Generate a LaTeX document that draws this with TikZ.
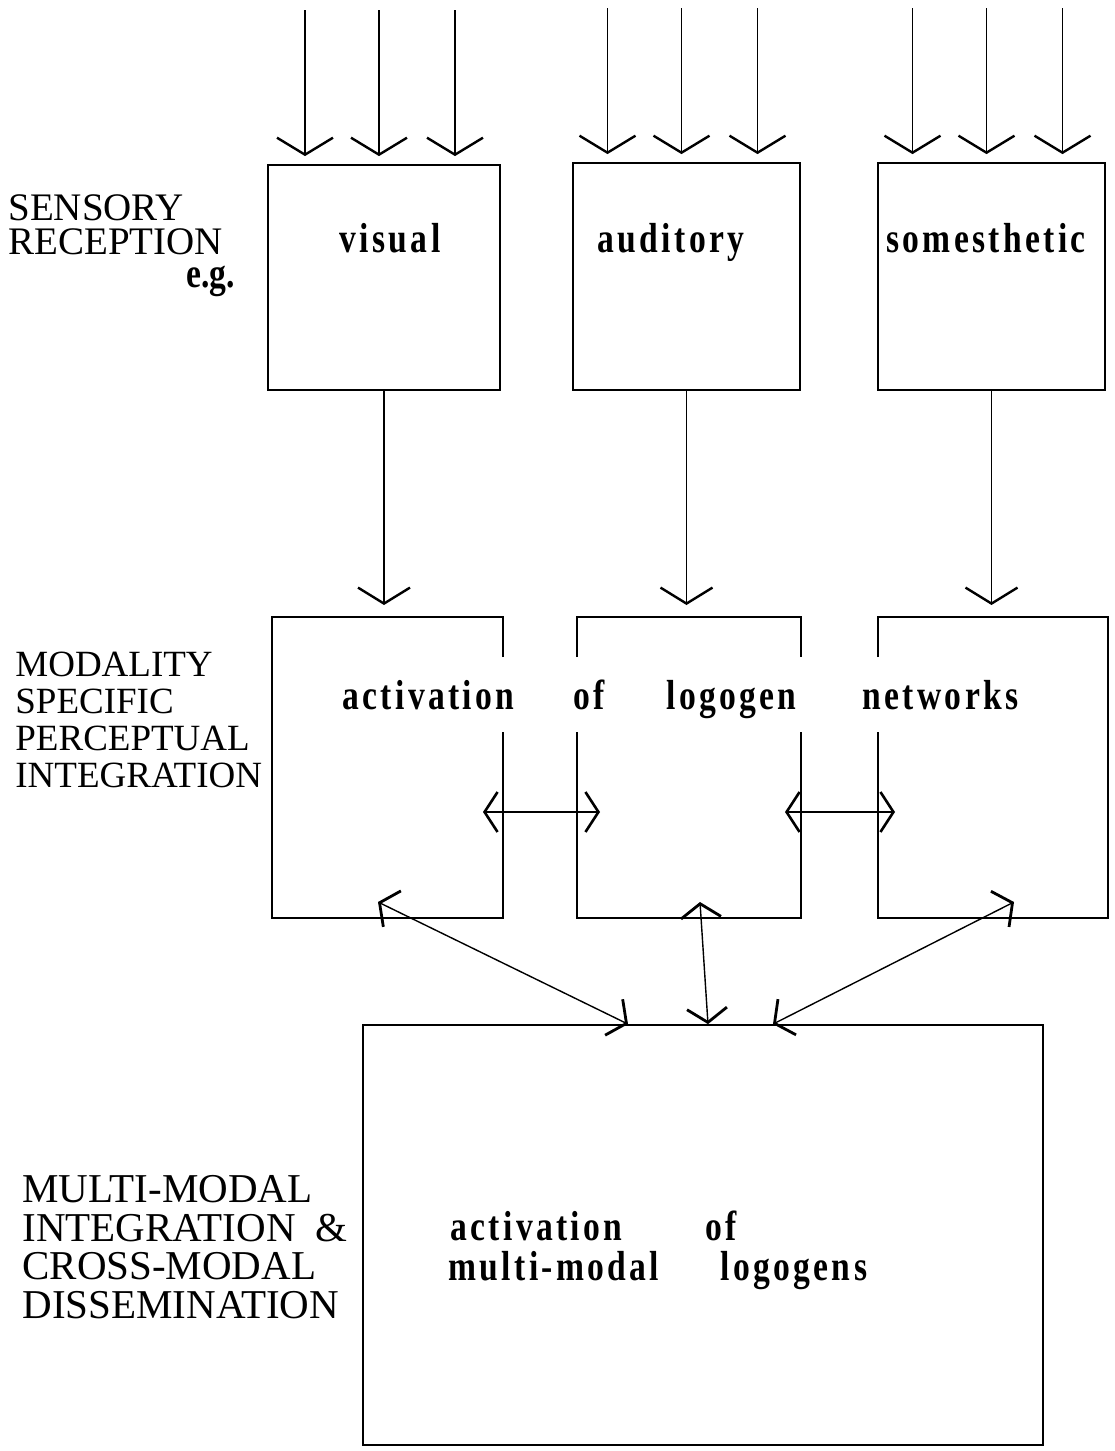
\documentclass[tikz,border=0pt]{standalone}
\usepackage{fontspec}
\setmainfont{Liberation Serif}
\newfontfamily\wordfont[FakeStretch=0.8,LetterSpace=8]{Liberation Serif Bold}
\newfontfamily\egfont[FakeStretch=0.8]{Liberation Serif Bold}
\usetikzlibrary{arrows.meta,calc}

\tikzset{
	box/.style={draw,line width=0.9pt,inner sep=0pt},
	slot/.style={inner sep=0pt,outer sep=0pt},
	boxline/.style={line width=0.9pt},
	word/.style={font={\wordfont\fontsize{21}{21}\selectfont},inner sep=0pt},
	side/.style={align=left,inner sep=0pt,anchor=north west},
	inarr/.style={line width=0.7pt,-{Straight Barb[length=8.5pt,width=28pt,line width=1.2pt]}},
	downarr/.style={line width=0.7pt,shorten >=6pt,-{Straight Barb[length=8pt,width=26pt,line width=1.2pt]}},
	sidearr/.style={line width=0.7pt,{Straight Barb[length=6.5pt,width=20pt,line width=1.3pt]}-{Straight Barb[length=6.5pt,width=20pt,line width=1.3pt]}},
	crossarr/.style={line width=0.7pt,{Straight Barb[length=7pt,width=20pt,line width=1.4pt]}-{Straight Barb[length=7pt,width=20pt,line width=1.4pt]}}
}

\begin{document}
\begin{tikzpicture}[x=0.5pt,y=-0.5pt]
	\useasboundingbox (0,0) rectangle (1114,1451);
	% row labels
	\node[side,font={\fontsize{19.5}{17}\selectfont}] (sens) at (8,194) {SENSORY\\RECEPTION};
	\node[anchor=base east,inner sep=0pt,font={\egfont\fontsize{21}{21}\selectfont}] (eg) at (235,287) {e.g.};
	\node[side,font={\fontsize{18.5}{18.5}\selectfont}] (modal) at (15,652) {MODALITY\\SPECIFIC\\PERCEPTUAL\\INTEGRATION};
	\node[side,font={\fontsize{20.5}{19.25}\selectfont}] (multi) at (22,1175) {MULTI-MODAL\\INTEGRATION\hspace{10pt}\&\\CROSS-MODAL\\DISSEMINATION};
	% sensory reception
	\node[box,minimum width=116pt,minimum height=112.5pt] (vis) at (384,277.5) {};
	\node[box,minimum width=113.5pt,minimum height=113.5pt] (aud) at (686.5,276.5) {};
	\node[box,minimum width=113.5pt,minimum height=113.5pt] (som) at (991.5,276.5) {};
	\node[word,anchor=base] (visT) at (390,252) {visual};
	\node[word,anchor=base] (audT) at (671,252) {auditory};
	\node[word,anchor=base] (somT) at (986,252) {somesthetic};
	\foreach \b in {vis,aud,som}
		\foreach \dx in {-39.5,-2.5,35.5}
			\draw[inarr] ([xshift=\dx pt,yshift=77pt]\b.north) -- ([xshift=\dx pt,yshift=4pt]\b.north);
	% modality specific boxes, sides open for the text
	\node[slot,minimum width=115.5pt,minimum height=150.5pt] (m1) at (387.5,767.5) {};
	\node[slot,minimum width=112pt,minimum height=150.5pt] (m2) at (689,767.5) {};
	\node[slot,minimum width=115pt,minimum height=150.5pt] (m3) at (993,767.5) {};
	\draw[boxline] ([yshift=-20pt]m1.north east) -- (m1.north east) -- (m1.north west) -- (m1.south west) -- (m1.south east) -- ([yshift=-57.5pt]m1.north east);
	\draw[boxline] ([yshift=-20pt]m2.north west) -- (m2.north west) -- (m2.north east) -- ([yshift=-20pt]m2.north east);
	\draw[boxline] ([yshift=-57.5pt]m2.north west) -- (m2.south west) -- (m2.south east) -- ([yshift=-57.5pt]m2.north east);
	\draw[boxline] ([yshift=-20pt]m3.north west) -- (m3.north west) -- (m3.north east) -- (m3.south east) -- (m3.south west) -- ([yshift=-57.5pt]m3.north west);
	\node[word,anchor=base west] (act) at (342,709) {activation};
	\node[word,anchor=base west] (of) at (573,709) {of};
	\node[word,anchor=base west] (logo) at (666,709) {logogen};
	\node[word,anchor=base west] (net) at (862,709) {networks};
	\draw[downarr] (vis.south) -- (vis.south |- m1.north);
	\draw[downarr] (aud.south) -- (aud.south |- m2.north);
	\draw[downarr] (som.south) -- (som.south |- m3.north);
	\draw[sidearr] ([xshift=-10pt,yshift=-97.5pt]m1.north east) -- ([xshift=11.5pt,yshift=-97.5pt]m2.north west);
	\draw[sidearr] ([xshift=-8pt,yshift=-97.5pt]m2.north east) -- ([xshift=8.5pt,yshift=-97.5pt]m3.north west);
	% multi-modal
	\node[box,minimum width=340pt,minimum height=210pt] (mm) at (703,1235) {};
	\node[word,anchor=base west] (act2) at (450,1240) {activation};
	\node[word,anchor=base west] (of2) at (705,1240) {of};
	\node[word,anchor=base west] (mmod) at (448,1280) {multi-modal};
	\node[word,anchor=base west] (logos) at (720,1280) {logogens};
	\draw[crossarr] ([xshift=-37.5pt]mm.north) -- ([xshift=-4.75pt,yshift=8pt]m1.south);
	\draw[crossarr] ([xshift=2.5pt]mm.north) -- ([xshift=5.5pt,yshift=8pt]m2.south);
	\draw[crossarr] ([xshift=35pt]mm.north) -- ([xshift=10.5pt,yshift=8pt]m3.south);
\end{tikzpicture}
\end{document}
